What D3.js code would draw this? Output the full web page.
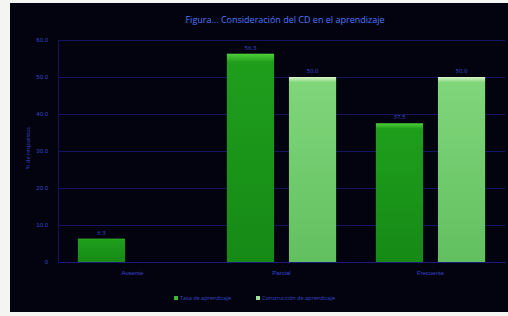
<!DOCTYPE html>
<html>
<head>
<meta charset="utf-8">
<script src="https://cdn.jsdelivr.net/npm/d3@7"></script>
<style>
  body { margin: 0; background: #f4f4f2; }
  svg { display: block; font-family: "Open Sans", "DejaVu Sans", sans-serif; }
</style>
</head>
<body>
<div id="chartCtn"></div>
<script>
var categories = [ "Ausente", "Parcial", "Frecuente" ];
var seriesNames = [ "Tasa de aprendizaje", "Construcción de aprendizaje" ];
var tasaValues = [ 6.3, 56.3, 37.5 ];
var construccionValues = [ 0, 50.0, 50.0 ];
var yTicks = [ 0, 10, 20, 30, 40, 50, 60 ];

var width = 508, height = 316;
var margin = { top: 40, right: 3, bottom: 54, left: 58 };

var svg = d3.select( "#chartCtn" )
	.append( "svg" )
	.attr( "width", width )
	.attr( "height", height );

var defs = svg.append( "defs" );
var g1 = defs.append( "linearGradient" ).attr( "id", "gS1" ).attr( "x1", 0 ).attr( "x2", 0 ).attr( "y1", 0 ).attr( "y2", 1 );
g1.append( "stop" ).attr( "offset", "0%" ).attr( "stop-color", "#4fd03a" );
g1.append( "stop" ).attr( "offset", "4%" ).attr( "stop-color", "#1f9e1c" );
g1.append( "stop" ).attr( "offset", "100%" ).attr( "stop-color", "#168a16" );
var g2 = defs.append( "linearGradient" ).attr( "id", "gS2" ).attr( "x1", 0 ).attr( "x2", 0 ).attr( "y1", 0 ).attr( "y2", 1 );
g2.append( "stop" ).attr( "offset", "0%" ).attr( "stop-color", "#d8f5c8" );
g2.append( "stop" ).attr( "offset", "3%" ).attr( "stop-color", "#80d67a" );
g2.append( "stop" ).attr( "offset", "100%" ).attr( "stop-color", "#62c060" );

// dark panel
svg.append( "rect" )
	.attr( "x", 10 ).attr( "y", 3 )
	.attr( "width", width - 10 ).attr( "height", height - 7 )
	.attr( "fill", "#03030f" );

var xScale = d3.scaleBand()
	.domain( categories )
	.range( [ margin.left, width - margin.right ] );

var xInner = d3.scaleBand()
	.domain( [ 0, 1 ] )
	.range( [ 0, xScale.bandwidth() ] )
	.paddingInner( 0.24 )
	.paddingOuter( 0.32 );

var yScale = d3.scaleLinear()
	.domain( [ 0, 60 ] )
	.range( [ height - margin.bottom, margin.top ] );

// grid
svg.append( "g" )
	.attr( "transform", `translate(${ margin.left }, 0)` )
	.call( d3.axisLeft( yScale ).tickValues( yTicks ).tickSize( -( width - margin.left - margin.right ) ).tickFormat( "" ) )
	.call( g => g.select( ".domain" ).remove() )
	.selectAll( "line" )
	.attr( "stroke", "#141460" )
	.attr( "stroke-width", 1 );

// y axis labels
svg.append( "g" )
	.attr( "transform", `translate(${ margin.left }, 0)` )
	.call( d3.axisLeft( yScale ).tickValues( yTicks ).tickSize( 0 ).tickPadding( 10 )
		.tickFormat( d => d === 0 ? "0" : d3.format( ".1f" )( d ) ) )
	.call( g => g.select( ".domain" ).attr( "stroke", "#141460" ) )
	.selectAll( "text" )
	.attr( "fill", "#3a44c8" )
	.attr( "font-size", "6px" );

var series = [ tasaValues, construccionValues ];
var fills = [ "url(#gS1)", "url(#gS2)" ];

series.forEach( function ( values, si ) {
	svg.append( "g" ).selectAll( "rect" )
		.data( values )
		.enter()
		.append( "rect" )
		.attr( "x", ( d, i ) => xScale( categories[ i ] ) + xInner( si ) )
		.attr( "y", d => yScale( d ) )
		.attr( "width", xInner.bandwidth() )
		.attr( "height", d => yScale( 0 ) - yScale( d ) )
		.attr( "fill", fills[ si ] );

	svg.append( "g" ).selectAll( "text" )
		.data( values )
		.enter()
		.append( "text" )
		.attr( "x", ( d, i ) => xScale( categories[ i ] ) + xInner( si ) + xInner.bandwidth() / 2 )
		.attr( "y", d => yScale( d ) - 4 )
		.attr( "text-anchor", "middle" )
		.attr( "fill", "#3a48d0" )
		.attr( "font-size", "6px" )
		.text( d => d > 0 ? d3.format( ".1f" )( d ) : "" );
} );

// x axis
svg.append( "g" )
	.attr( "transform", `translate(0, ${ yScale( 0 ) })` )
	.call( d3.axisBottom( xScale ).tickSize( 0 ).tickPadding( 9 ) )
	.call( g => g.select( ".domain" ).attr( "stroke", "#1c1c80" ) )
	.selectAll( "text" )
	.attr( "fill", "#3a44d0" )
	.attr( "font-size", "6px" );

// title
svg.append( "text" )
	.attr( "x", 285 )
	.attr( "y", 23 )
	.attr( "text-anchor", "middle" )
	.attr( "fill", "#4c78ff" )
	.style( "font-size", "9px" )
	.text( "Figura... Consideración del CD en el aprendizaje" );

// y title
svg.append( "text" )
	.attr( "transform", "rotate(-90)" )
	.attr( "x", -148 )
	.attr( "y", 30 )
	.attr( "text-anchor", "middle" )
	.attr( "fill", "#3a44c8" )
	.style( "font-size", "5.5px" )
	.text( "% de respuestas" );

// legend
var legendX = [ 174, 256 ];
var legendColors = [ "#3fb83a", "#9fe098" ];
seriesNames.forEach( function ( name, i ) {
	svg.append( "rect" )
		.attr( "x", legendX[ i ] ).attr( "y", 296 )
		.attr( "width", 4 ).attr( "height", 4 )
		.attr( "fill", legendColors[ i ] );
	svg.append( "text" )
		.attr( "x", legendX[ i ] + 6 )
		.attr( "y", 300 )
		.attr( "fill", "#3a44c8" )
		.style( "font-size", "5.5px" )
		.text( name );
} );
</script>
</body>
</html>
